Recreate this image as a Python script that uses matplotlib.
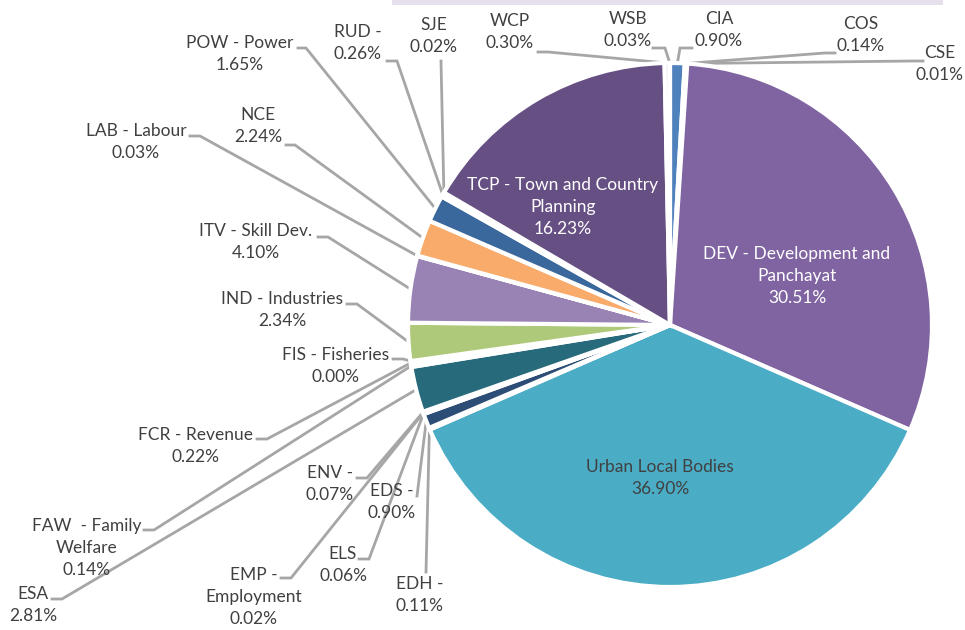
import matplotlib
matplotlib.use('Agg')
import matplotlib.pyplot as plt
from matplotlib.patches import Rectangle
import numpy as np

W, H = 965, 630

# slices, clockwise from 12 o'clock
names = ["CIA", "COS", "CSE", "DEV - Development and\nPanchayat", "Urban Local Bodies",
         "EDH -", "EDS -", "ELS", "EMP -\nEmployment", "ENV -", "ESA",
         "FAW  - Family\nWelfare", "FCR - Revenue", "FIS - Fisheries", "IND - Industries",
         "ITV - Skill Dev.", "LAB - Labour", "NCE", "POW - Power", "RUD -", "SJE",
         "TCP - Town and Country\nPlanning", "WCP", "WSB"]
values = [0.90, 0.14, 0.01, 30.51, 36.90,
          0.11, 0.90, 0.06, 0.02, 0.07, 2.81,
          0.14, 0.22, 0.00, 2.34,
          4.10, 0.03, 2.24, 1.65, 0.26, 0.02,
          16.23, 0.30, 0.03]
colors = ["#4F81BD", "#C0504D", "#9BBB59", "#8064A2", "#4BACC6",
          "#F79646", "#2C4D75", "#772C2A", "#5F7530", "#4D3B62", "#276A7C",
          "#B65708", "#729ACA", "#CD7371", "#AFC97A",
          "#9983B5", "#6FBDD1", "#F9AB6B", "#3A679C", "#9E3B38", "#7E9C40",
          "#664F83", "#B9CDE5", "#F79646"]

# label layout in pixel coords (x, y from top); None = label inside slice
label_pos = [(719, 30), (861, 35), (940, 64), (797, 276), (660, 478),
             (420, 595), (392, 502), (343, 565), (254, 597), (330, 484), (33, 605),
             (87, 548), (196, 446), (336, 366), (282, 310),
             (256, 242), (136, 142), (258, 126), (240, 54), (358, 43), (434, 36),
             (563, 207), (510, 32), (628, 30)]
elbow = [(680, 48), (825, 53), (913, 61), None, None,
         (426, 572), (417, 496), (369, 559), (291, 578), (367, 478), (62, 599),
         (154, 530), (267, 439), (403, 359), (357, 304),
         (328, 237), (200, 136), (295, 145), (306, 48), (397, 61), (441, 61),
         None, (548, 52), (665, 48)]
stub = [12, 10, 10, 0, 0,
        0, 0, -10, -10, -10, -10,
        -10, -10, -10, -10,
        -10, -10, -9, -8, -10, 0,
        0, -10, -12]
text_col = ["#404040"] * len(names)
text_col[3] = "white"
text_col[21] = "white"

plt.rcParams['font.family'] = ['Lato', 'DejaVu Sans']

fig = plt.figure(figsize=(W / 100, H / 100), dpi=100)
ax = fig.add_axes([0, 0, 1, 1])

cx, cy, R = 670, H - 325, 262
wedges, _ = ax.pie(values, colors=colors, startangle=90, counterclock=False,
                   center=(cx, cy), radius=R,
                   wedgeprops=dict(edgecolor='white', linewidth=3))

for i, w in enumerate(wedges):
    txt = names[i] + "\n" + f"{values[i]:.2f}%"
    lx, ly = label_pos[i]
    ax.text(lx, H - ly, txt, ha='center', va='center', fontsize=12.5,
            color=text_col[i], linespacing=1.47)
    if elbow[i] is None:
        continue
    th = np.deg2rad((w.theta1 + w.theta2) / 2)
    sx, sy = cx + R * np.cos(th), cy + R * np.sin(th)
    ex, ey = elbow[i][0], H - elbow[i][1]
    ax.plot([sx, ex, ex + stub[i]], [sy, ey, ey], color="#A6A6A6", lw=2,
            solid_joinstyle='miter', zorder=0.5)

ax.add_patch(Rectangle((392, H - 5), 551, 5, color="#E6E0EC", lw=0))

ax.set_xlim(0, W)
ax.set_ylim(0, H)
ax.set_aspect('auto')
ax.axis('off')

fig.savefig("out.png", dpi=100)
